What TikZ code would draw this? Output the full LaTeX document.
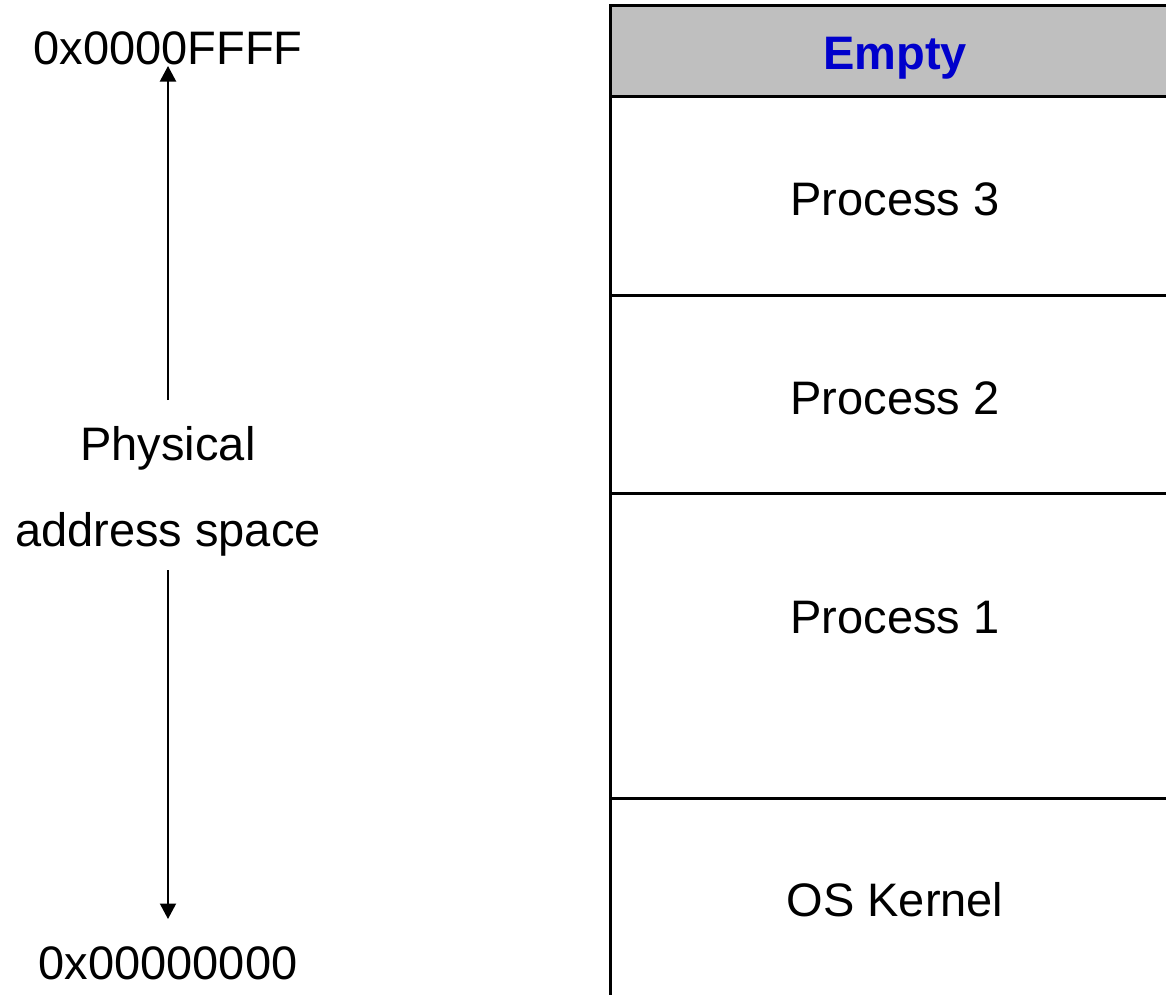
\documentclass[tikz,border=0pt]{standalone}
\usepackage{fontspec}
\setmainfont{Liberation Sans}
\usetikzlibrary{arrows.meta}
\begin{document}
\begin{tikzpicture}[x=1pt,y=-1pt,
  lbl/.style={anchor=base,inner sep=0pt,font=\fontsize{47}{56}\selectfont},
  memrow/.style={draw=black,line width=3pt},
  arr/.style={line width=2pt,-{Triangle[width=16pt,length=15.5pt]}}]
\useasboundingbox (0,0) rectangle (1166,994);
% memory map
\fill[fill={rgb,255:red,191;green,191;blue,191}] (610,5) rectangle (1180,96);
\draw[memrow] (1180,5) -- (610,5) -- (610,1010);
\draw[memrow] (610,96) -- (1180,96);
\draw[memrow] (610,295) -- (1180,295);
\draw[memrow] (610,493) -- (1180,493);
\draw[memrow] (610,798) -- (1180,798);
\node[lbl,font=\fontsize{47}{56}\selectfont\bfseries,text={rgb,255:red,0;green,0;blue,204}] (empty) at (895,69) {Empty};
\node[lbl] (p3) at (895,215) {Process 3};
\node[lbl] (p2) at (895,414) {Process 2};
\node[lbl] (p1) at (895,633) {Process 1};
\node[lbl] (os) at (895,916) {OS Kernel};
% left labels
\node[lbl] (top) at (168,64) {0x0000FFFF};
\node[lbl] (phys) at (168,460) {Physical};
\node[lbl] (addr) at (168,546) {address space};
\node[lbl] (bot) at (168,979) {0x00000000};
\coordinate (upS) at (168,400);
\coordinate (upE) at (168,66);
\coordinate (dnS) at (168,570);
\coordinate (dnE) at (168,919);
\draw[arr] (upS) -- (upE);
\draw[arr] (dnS) -- (dnE);
\end{tikzpicture}
\end{document}
